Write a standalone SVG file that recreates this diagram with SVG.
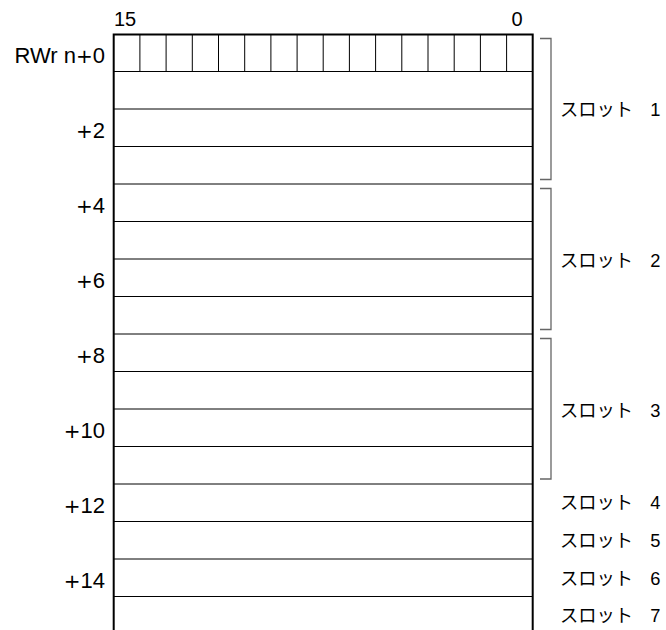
<svg xmlns="http://www.w3.org/2000/svg" width="666" height="630" viewBox="0 0 666 630">
<style>
.lbl{font-family:"Liberation Sans",Arial,sans-serif;font-size:22px;fill:#000;text-anchor:end}
.pl{font-family:"DejaVu Sans",sans-serif;font-size:20px}
.bit{font-family:"Liberation Sans",Arial,sans-serif;font-size:20px;fill:#000}
.slot{font-family:"Liberation Sans","Noto Sans CJK JP",sans-serif;font-size:18.3px;fill:#000}
.grid{stroke:#000;stroke-width:1;fill:none}
.frame{stroke:#000;stroke-width:2;fill:none}
.br{stroke:#666;stroke-width:1.3;fill:none}
</style>
<rect width="666" height="630" fill="#fff"/>
<g id="register">
  <g class="grid">
    <path d="M113.7 71.5H532.7M113.7 109H532.7M113.7 146.5H532.7M113.7 184H532.7M113.7 221.5H532.7M113.7 259H532.7M113.7 296.5H532.7M113.7 334H532.7M113.7 371.5H532.7M113.7 409H532.7M113.7 446.5H532.7M113.7 484H532.7M113.7 521.5H532.7M113.7 559H532.7M113.7 596.5H532.7"/>
    <path d="M139.9 34V71.5M166.1 34V71.5M192.3 34V71.5M218.5 34V71.5M244.7 34V71.5M270.9 34V71.5M297.1 34V71.5M323.2 34V71.5M349.4 34V71.5M375.6 34V71.5M401.8 34V71.5M428 34V71.5M454.2 34V71.5M480.4 34V71.5M506.6 34V71.5"/>
  </g>
  <path class="frame" d="M113.7 630V34.5H532.7V630"/>
</g>
<g id="bit-labels">
  <text class="bit" x="114" y="26">15</text>
  <text class="bit" x="511.5" y="26">0</text>
</g>
<g id="address-labels">
  <text class="lbl" x="105" y="62.8">RWr n<tspan class="pl">+</tspan>0</text>
  <text class="lbl" x="105" y="137.8"><tspan class="pl">+</tspan>2</text>
  <text class="lbl" x="105" y="212.8"><tspan class="pl">+</tspan>4</text>
  <text class="lbl" x="105" y="287.8"><tspan class="pl">+</tspan>6</text>
  <text class="lbl" x="105" y="362.8"><tspan class="pl">+</tspan>8</text>
  <text class="lbl" x="105" y="437.8"><tspan class="pl">+</tspan>10</text>
  <text class="lbl" x="105" y="512.8"><tspan class="pl">+</tspan>12</text>
  <text class="lbl" x="105" y="587.8"><tspan class="pl">+</tspan>14</text>
</g>
<g id="connectors">
  <path class="br" d="M540 38.5H551V179.5H540"/>
  <path class="br" d="M540 188.5H551V329.5H540"/>
  <path class="br" d="M540 338.5H551V479H540"/>
</g>
<g id="slot-labels">
  <text class="slot" x="560" y="116.3">スロット <tspan dx="12">1</tspan></text>
  <text class="slot" x="560" y="266.5">スロット <tspan dx="12">2</tspan></text>
  <text class="slot" x="560" y="416.5">スロット <tspan dx="12">3</tspan></text>
  <text class="slot" x="560" y="509.3">スロット <tspan dx="12">4</tspan></text>
  <text class="slot" x="560" y="547">スロット <tspan dx="12">5</tspan></text>
  <text class="slot" x="560" y="584.5">スロット <tspan dx="12">6</tspan></text>
  <text class="slot" x="560" y="621.7">スロット <tspan dx="12">7</tspan></text>
</g>
</svg>
